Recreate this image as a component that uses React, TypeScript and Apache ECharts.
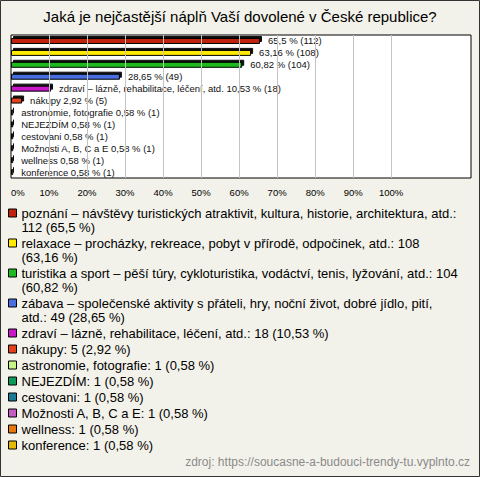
import React, { useEffect, useRef } from "react";
import * as echarts from "echarts";

const titleText = "Jaká je nejčastější náplň Vaší dovolené v České republice?";
const sourceText = "zdroj: https://soucasne-a-budouci-trendy-tu.vyplnto.cz";

const categories = [
  "poznání – návštěvy turistických atraktivit, kultura, historie, architektura, atd.",
  "relaxace – procházky, rekreace, pobyt v přírodě, odpočinek, atd.",
  "turistika a sport – pěší túry, cykloturistika, vodáctví, tenis, lyžování, atd.",
  "zábava – společenské aktivity s přáteli, hry, noční život, dobré jídlo, pití, atd.",
  "zdraví – lázně, rehabilitace, léčení, atd.",
  "nákupy",
  "astronomie, fotografie",
  "NEJEZDÍM",
  "cestovani",
  "Možnosti A, B, C a E",
  "wellness",
  "konference",
];
const counts = [112, 108, 104, 49, 18, 5, 1, 1, 1, 1, 1, 1];
const percents = [65.5, 63.16, 60.82, 28.65, 10.53, 2.92, 0.58, 0.58, 0.58, 0.58, 0.58, 0.58];
const showNameOnBar = [false, false, false, false, true, true, true, true, true, true, true, true];
// word of the legend text after which the legend line wraps ("" = no wrap)
const legendBreakAfter = ["atd.:", "108", "104", "pití,", "", "", "", "", "", "", "", ""];
const colors = [
  "#c1230f", "#ffea00", "#1fba1f", "#4a6ee0", "#c819c8", "#e3421a",
  "#c6f585", "#0e9a5a", "#1a7a94", "#c45cc4", "#e6780f", "#e6b800",
];
const gridValues = [10, 20, 30, 40, 50, 60, 70, 80, 90, 100];

const pctStr = (p: number) => String(p).replace(".", ",");
const barLabel = (i: number) =>
  (showNameOnBar[i] ? categories[i] + " " : "") + `${pctStr(percents[i])} % (${counts[i]})`;
const legendLabel = (i: number) => {
  const full = `${categories[i]}: ${counts[i]} (${pctStr(percents[i])} %)`;
  const tok = legendBreakAfter[i];
  if (!tok) return full;
  const words = full.split(" ");
  const k = words.indexOf(tok);
  if (k < 0) return full;
  return words.slice(0, k + 1).join(" ") + "\n" + words.slice(k + 1).join(" ");
};

const twoLineIcon = "path://M0,0H8V8H0Z M0,22L0,22";

export default function App() {
  const ref = useRef<HTMLDivElement>(null);
  useEffect(() => {
    document.body.style.margin = "0";
    const chart = echarts.init(ref.current!, undefined, { renderer: "svg" });
    const font = "'Liberation Sans', Arial, sans-serif";
    const series: any[] = categories.map((name, i) => ({
      type: "bar",
      name,
      stack: "all",
      barWidth: 6,
      z: 3,
      data: categories.map((_, j) => (j === i ? percents[i] : null)),
      itemStyle: {
        color: colors[i],
        borderColor: "#000",
        borderWidth: 1,
        shadowColor: "#111",
        shadowOffsetX: 2,
        shadowOffsetY: -2,
        shadowBlur: 0,
      },
      label: {
        show: true,
        position: "right",
        distance: 8,
        fontSize: 9.5,
        color: "#111",
        fontFamily: font,
        formatter: () => barLabel(i),
      },
    }));
    series.push({
      type: "line",
      name: "grid",
      data: [],
      z: 1,
      silent: true,
      markLine: {
        silent: true,
        symbol: "none",
        animation: false,
        label: { show: false },
        lineStyle: { color: "#c4c4c4", type: "solid", width: 1 },
        data: gridValues.map((v) => ({ xAxis: v })),
      },
    });
    const legendCommon = {
      orient: "vertical",
      left: 8,
      padding: 0,
      itemGap: 2,
      itemWidth: 8,
      selectedMode: false,
      itemStyle: { borderColor: "#000", borderWidth: 1, shadowBlur: 0, shadowOffsetX: 0, shadowOffsetY: 0, shadowColor: "transparent" },
      textStyle: {
        fontSize: 13,
        lineHeight: 14,
        color: "#000",
        fontFamily: font,
      },
      formatter: (name: string) => legendLabel(categories.indexOf(name)),
    };
    chart.setOption({
      animation: false,
      backgroundColor: "#f3f2ea",
      textStyle: { fontFamily: font },
      title: [
        {
          text: titleText,
          left: "center",
          top: 9,
          padding: 0,
          textStyle: { fontSize: 15, fontWeight: "normal", color: "#000", fontFamily: font },
        },
        {
          text: sourceText,
          right: 10,
          top: 456,
          padding: 0,
          textStyle: { fontSize: 12, fontWeight: "normal", color: "#8a8a8a", fontFamily: font },
        },
      ],
      grid: {
        left: 11,
        right: 9,
        top: 35,
        bottom: 299,
        show: true,
        backgroundColor: "#fff",
        borderColor: "#000",
        borderWidth: 1,
      },
      xAxis: {
        type: "value",
        min: 0,
        max: 121,
        interval: 10,
        splitLine: { show: false },
        axisLine: { show: false },
        axisTick: { show: false },
        axisLabel: {
          fontSize: 9.5,
          color: "#000",
          margin: 9,
          showMaxLabel: false,
          alignMinLabel: "left",
          formatter: (v: number) => (v <= 100 ? `${v}%` : ""),
        },
      },
      yAxis: {
        type: "category",
        data: categories,
        inverse: true,
        axisLine: { show: false },
        axisTick: { show: false },
        axisLabel: { show: false },
      },
      legend: [
        {
          ...legendCommon,
          top: 206,
          itemHeight: 22,
          data: categories.slice(0, 4).map((name) => ({ name, icon: twoLineIcon })),
        },
        {
          ...legendCommon,
          top: 326,
          itemHeight: 8,
          icon: "rect",
          data: categories.slice(4).map((name) => ({ name, icon: "rect" })),
        },
      ],
      graphic: [
        {
          type: "rect",
          shape: { x: 0.5, y: 0.5, width: 479, height: 476 },
          style: { fill: "none", stroke: "#333", lineWidth: 1 },
          silent: true,
          z: 100,
        },
      ],
      series,
    });
    return () => chart.dispose();
  }, []);
  return <div ref={ref} style={{ width: 480, height: 477 }} />;
}
